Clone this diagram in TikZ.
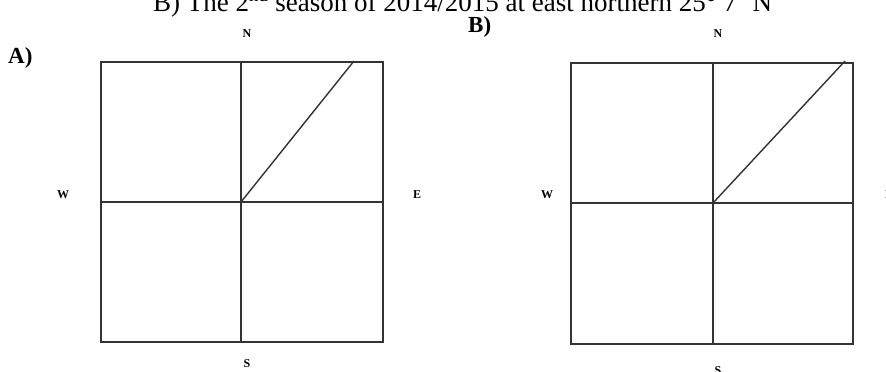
\documentclass[tikz,border=0pt]{standalone}
\usepackage{fontspec}
\setmainfont{Liberation Serif}
\begin{document}
\begin{tikzpicture}[x=1pt,y=-1pt,
  gridline/.style={draw=black!80,line width=1.4pt},
  dirlabel/.style={font=\fontsize{12}{13}\selectfont\bfseries,inner sep=0pt},
  panellabel/.style={font=\fontsize{23}{25}\selectfont\bfseries,inner sep=0pt,anchor=base west}]
\clip (0,0) rectangle (886,372);
\useasboundingbox (0,0) rectangle (886,372);
\fill[white] (0,0) rectangle (886,372);
% title (clipped at top)
\node[anchor=base west,inner sep=0pt,font=\fontsize{27}{29}\selectfont] (title) at (153,11)
  {B) The 2\textsuperscript{nd} season of 2014/2015 at east northern 25° 7' N};
% panel A
\coordinate (aC) at (241,202);
\draw[gridline] (101,62) rectangle (383,342);
\draw[gridline] (241,62) -- (241,342);
\draw[gridline] (101,202) -- (383,202);
\coordinate (aT) at (354,61);
\draw[gridline] (aC) -- (aT);
\node[panellabel] (la) at (8,63) {A)};
\node[dirlabel] (an) at (247,34) {N};
\node[dirlabel] (aw) at (63,195) {W};
\node[dirlabel] (ae) at (417,195) {E};
\node[dirlabel] (as) at (247,364) {S};
% panel B
\coordinate (bC) at (713,203);
\draw[gridline] (571,63) rectangle (853,344);
\draw[gridline] (713,63) -- (713,344);
\draw[gridline] (571,203) -- (853,203);
\coordinate (bT) at (845,61);
\draw[gridline] (bC) -- (bT);
\node[panellabel] (lb) at (468,32) {B)};
\node[dirlabel] (bn) at (718,34) {N};
\node[dirlabel] (bw) at (547,195) {W};
\node[dirlabel] (be) at (889,195) {E};
\node[dirlabel] (bs) at (718,371) {S};
\end{tikzpicture}
\end{document}
